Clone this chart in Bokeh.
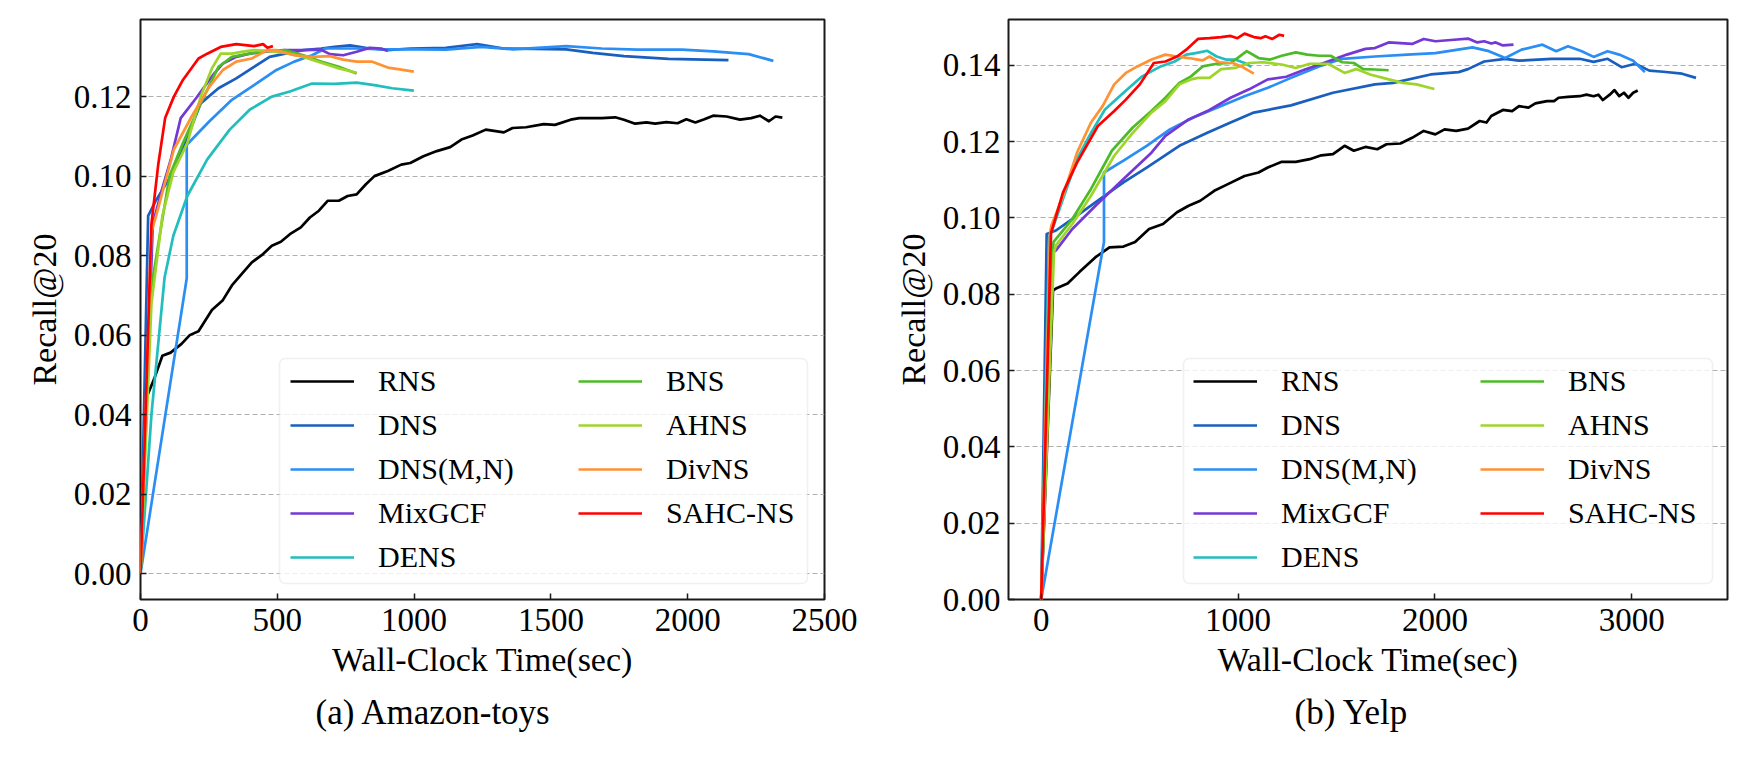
from bokeh.plotting import figure
from bokeh.layouts import row
from bokeh.models import (Range1d, FixedTicker, NumeralTickFormatter, Legend,
                          LegendItem, BoxAnnotation, Title)
from bokeh.embed import file_html
from bokeh.resources import INLINE

FONT = "Liberation Serif"

series_names = ["RNS", "DNS", "DNS(M,N)", "MixGCF", "DENS", "BNS", "AHNS", "DivNS", "SAHC-NS"]
series_colors = ["#000000", "#1a5fbf", "#2a8ef5", "#7338d6", "#22bdbd",
                 "#4cbb27", "#9fd42b", "#ff9233", "#ff0000"]

# ---------------- (a) Amazon-toys ----------------
amz_rns_x = [0, 20, 50, 80, 110, 150, 180, 212, 261, 301, 334, 375, 407, 448, 480, 513, 546, 586,
             619, 652, 684, 725, 757, 790, 823, 855, 904, 953, 986, 1034, 1083, 1132, 1173, 1214,
             1262, 1328, 1360, 1409, 1474, 1515, 1572, 1604, 1686, 1735, 1767, 1808, 1849, 1881,
             1922, 1963, 1995, 2028, 2061, 2093, 2142, 2191, 2232, 2264, 2297, 2321, 2346]
amz_rns_y = [0, 0.044, 0.049, 0.0548, 0.0556, 0.0578, 0.060, 0.061, 0.0663, 0.0688, 0.0725, 0.0758,
             0.0783, 0.0804, 0.0825, 0.0835, 0.0854, 0.0871, 0.0896, 0.0913, 0.0938, 0.0938, 0.0950,
             0.0954, 0.0979, 0.1000, 0.1013, 0.1029, 0.1033, 0.1050, 0.1063, 0.1073, 0.1092, 0.1102,
             0.1117, 0.1110, 0.1121, 0.1123, 0.1131, 0.1129, 0.1142, 0.1146, 0.1146, 0.1148, 0.1142,
             0.1132, 0.1135, 0.1132, 0.1136, 0.1133, 0.1143, 0.1135, 0.1143, 0.1152, 0.1150, 0.1142,
             0.1146, 0.1152, 0.1138, 0.1150, 0.1147]
amz_dns_x = [0, 28, 55, 106, 150, 220, 285, 350, 415, 472, 529, 595, 660, 709, 766, 823, 904, 986,
             1116, 1230, 1328, 1442, 1556, 1653, 1767, 1930, 2149]
amz_dns_y = [0, 0.090, 0.0937, 0.0995, 0.106, 0.1183, 0.1221, 0.1246, 0.1275, 0.130, 0.1308, 0.1317,
             0.1321, 0.1325, 0.1329, 0.1323, 0.1317, 0.1321, 0.1323, 0.1332, 0.1321, 0.132, 0.1319,
             0.131, 0.1302, 0.1295, 0.1292]
amz_dnsmn_x = [0, 169, 169, 252, 334, 415, 497, 562, 627, 676, 790, 888, 1018, 1116, 1246, 1360,
               1556, 1686, 1816, 1979, 2093, 2223, 2313]
amz_dnsmn_y = [0, 0.0743, 0.1079, 0.1138, 0.1192, 0.1229, 0.1267, 0.1288, 0.1304, 0.1321, 0.1321,
               0.1319, 0.1319, 0.1318, 0.1325, 0.1319, 0.1327, 0.1321, 0.1318, 0.1318, 0.1314,
               0.1307, 0.129]
amz_mixgcf_x = [0, 45, 80, 110, 147, 203, 269, 301, 350, 399, 464, 529, 595, 660, 692, 741, 790,
                839, 880, 904]
amz_mixgcf_y = [0, 0.088, 0.097, 0.104, 0.1146, 0.1196, 0.1258, 0.1283, 0.130, 0.1308, 0.1314,
                0.1317, 0.1317, 0.1318, 0.1307, 0.1304, 0.1313, 0.1323, 0.1321, 0.1315]
amz_dens_x = [0, 40, 88, 120, 171, 244, 326, 399, 480, 546, 627, 709, 790, 855, 920, 999]
amz_dens_y = [0, 0.040, 0.0745, 0.085, 0.095, 0.1042, 0.1117, 0.1167, 0.120, 0.1213, 0.1233, 0.1232,
              0.1235, 0.1229, 0.1221, 0.1215]
amz_bns_x = [0, 35, 70, 106, 155, 220, 285, 334, 399, 464, 529, 595, 660, 725, 790]
amz_bns_y = [0, 0.070, 0.085, 0.100, 0.1083, 0.1183, 0.1275, 0.130, 0.1308, 0.1315, 0.1317, 0.1304,
             0.1288, 0.1275, 0.1258]
amz_ahns_x = [0, 40, 80, 120, 171, 220, 261, 293, 334, 375, 415, 464, 529, 595, 660, 725, 790]
amz_ahns_y = [0, 0.068, 0.090, 0.101, 0.1083, 0.120, 0.1271, 0.1308, 0.1308, 0.1313, 0.1317, 0.1315,
              0.131, 0.130, 0.1285, 0.1271, 0.126]
amz_divns_x = [0, 40, 57, 122, 187, 252, 301, 350, 407, 464, 497, 562, 627, 692, 741, 790, 847,
               904, 953, 999]
amz_divns_y = [0, 0.086, 0.090, 0.1067, 0.115, 0.1225, 0.1267, 0.1288, 0.1296, 0.1317, 0.1317,
               0.1304, 0.130, 0.1302, 0.1293, 0.1288, 0.1288, 0.1273, 0.1268, 0.1263]
amz_sahc_x = [0, 40, 65, 90, 122, 155, 212, 244, 293, 350, 415, 448, 464, 484]
amz_sahc_y = [0, 0.088, 0.103, 0.1146, 0.120, 0.1242, 0.1296, 0.1308, 0.1325, 0.1332, 0.1327,
              0.1332, 0.1323, 0.1327]

# ---------------- (b) Yelp ----------------
yelp_rns_x = [0, 60, 75, 134, 194, 276, 347, 418, 477, 548, 619, 690, 749, 808, 879, 938, 1033,
              1104, 1151, 1222, 1293, 1364, 1423, 1482, 1541, 1588, 1647, 1707, 1754, 1825, 1884,
              1943, 2002, 2049, 2108, 2168, 2227, 2262, 2286, 2345, 2392, 2427, 2475, 2510, 2569,
              2605, 2628, 2676, 2735, 2770, 2806, 2830, 2853, 2888, 2912, 2936, 2960, 2983, 3007, 3030]
yelp_rns_y = [0, 0.081, 0.0815, 0.0828, 0.0858, 0.0897, 0.0923, 0.0925, 0.0937, 0.0971, 0.0984,
              0.1015, 0.1032, 0.1045, 0.1071, 0.1086, 0.111, 0.1119, 0.1132, 0.1147, 0.1147, 0.1154,
              0.1164, 0.1167, 0.1189, 0.1176, 0.1186, 0.118, 0.1193, 0.1195, 0.121, 0.1228, 0.1219,
              0.1232, 0.1228, 0.1234, 0.1254, 0.125, 0.1267, 0.1283, 0.128, 0.1293, 0.1289, 0.130,
              0.1306, 0.1306, 0.1315, 0.1317, 0.1319, 0.1323, 0.1319, 0.1323, 0.1309, 0.1323, 0.1335,
              0.1319, 0.1328, 0.1315, 0.1328, 0.1334]
yelp_dns_x = [0, 28, 75, 182, 300, 418, 536, 702, 844, 962, 1080, 1269, 1482, 1695, 1789, 1978,
              2120, 2168, 2250, 2357, 2427, 2593, 2735, 2806, 2877, 2948, 3018, 3089, 3160, 3255, 3326]
yelp_dns_y = [0, 0.0958, 0.0967, 0.1006, 0.105, 0.1093, 0.1132, 0.1189, 0.1223, 0.125, 0.1276,
              0.1295, 0.1328, 0.135, 0.1354, 0.1376, 0.1382, 0.139, 0.141, 0.1417, 0.1412, 0.1417,
              0.1417, 0.1409, 0.1417, 0.1395, 0.1404, 0.1386, 0.1383, 0.1378, 0.1367]
yelp_dnsmn_x = [0, 319, 319, 418, 536, 654, 773, 914, 1033, 1151, 1269, 1411, 1529, 1695, 1860,
                2002, 2191, 2274, 2357, 2440, 2546, 2616, 2676, 2746, 2806, 2877, 2936, 3007, 3066]
yelp_dnsmn_y = [0, 0.0937, 0.1119, 0.115, 0.1189, 0.1232, 0.1263, 0.1293, 0.1319, 0.1341, 0.1367,
                0.1397, 0.1417, 0.1423, 0.1428, 0.1432, 0.1447, 0.1437, 0.1419, 0.1441, 0.1454,
                0.1437, 0.145, 0.1437, 0.1422, 0.1437, 0.1428, 0.1412, 0.1382]
yelp_mixgcf_x = [0, 60, 75, 158, 276, 418, 560, 631, 749, 844, 962, 1056, 1151, 1245, 1340, 1435,
                 1553, 1647, 1695, 1765, 1884, 1943, 2002, 2097, 2168, 2215, 2250, 2286, 2309, 2345,
                 2399]
yelp_mixgcf_y = [0, 0.091, 0.0915, 0.0971, 0.1032, 0.1102, 0.1171, 0.1215, 0.1258, 0.128, 0.1315,
                 0.1337, 0.1363, 0.137, 0.1389, 0.1406, 0.1428, 0.1443, 0.1445, 0.146, 0.1456,
                 0.1469, 0.1463, 0.1467, 0.147, 0.146, 0.1463, 0.1457, 0.146, 0.1452, 0.1454]
yelp_dens_x = [0, 40, 52, 111, 182, 253, 324, 418, 513, 607, 678, 737, 784, 844, 891, 938, 985,
               1033, 1068]
yelp_dens_y = [0, 0.095, 0.0963, 0.105, 0.1154, 0.1223, 0.1284, 0.1328, 0.1371, 0.1397, 0.141,
               0.1428, 0.1432, 0.1438, 0.1423, 0.1415, 0.1415, 0.1406, 0.1396]
yelp_bns_x = [0, 60, 63, 158, 253, 359, 465, 560, 631, 702, 761, 820, 891, 962, 997, 1044, 1104,
              1163, 1222, 1293, 1352, 1411, 1470, 1529, 1588, 1636, 1695, 1765]
yelp_bns_y = [0, 0.092, 0.0937, 0.0997, 0.1076, 0.1176, 0.1237, 0.128, 0.1315, 0.1354, 0.1371,
              0.1397, 0.1404, 0.1406, 0.1419, 0.1437, 0.1419, 0.1415, 0.1425, 0.1434, 0.1428,
              0.1425, 0.1425, 0.1408, 0.1406, 0.139, 0.1389, 0.1387]
yelp_ahns_x = [0, 65, 75, 158, 253, 371, 465, 560, 631, 702, 761, 796, 855, 914, 985, 1056, 1127,
               1222, 1293, 1364, 1458, 1541, 1600, 1671, 1765, 1836, 1907, 1997]
yelp_ahns_y = [0, 0.091, 0.0928, 0.0984, 0.1058, 0.1163, 0.1223, 0.1276, 0.1306, 0.135, 0.1363,
               0.1367, 0.1367, 0.139, 0.1393, 0.1406, 0.1408, 0.1402, 0.1393, 0.1404, 0.1404,
               0.138, 0.139, 0.1376, 0.1363, 0.1354, 0.135, 0.1338]
yelp_divns_x = [0, 45, 52, 111, 182, 253, 312, 371, 430, 489, 560, 631, 690, 749, 820, 855, 903,
                973, 1021, 1080]
yelp_divns_y = [0, 0.096, 0.098, 0.1058, 0.1171, 0.125, 0.1293, 0.135, 0.138, 0.1397, 0.1415,
                0.1428, 0.1423, 0.1419, 0.1413, 0.1423, 0.1408, 0.1406, 0.1396, 0.1378]
yelp_sahc_x = [0, 50, 111, 182, 288, 371, 430, 501, 572, 631, 690, 737, 796, 855, 914, 962, 997,
               1033, 1080, 1115, 1139, 1174, 1210, 1234]
yelp_sahc_y = [0, 0.096, 0.1067, 0.1145, 0.1241, 0.128, 0.131, 0.135, 0.1406, 0.141, 0.1423,
               0.1441, 0.1469, 0.1471, 0.1474, 0.1477, 0.1471, 0.1483, 0.1474, 0.1471, 0.1476,
               0.1469, 0.148, 0.1477]

amz_xticks = [0, 500, 1000, 1500, 2000, 2500]
amz_yticks = [0.00, 0.02, 0.04, 0.06, 0.08, 0.10, 0.12]
yelp_xticks = [0, 1000, 2000, 3000]
yelp_yticks = [0.00, 0.02, 0.04, 0.06, 0.08, 0.10, 0.12, 0.14]

amz_series = [(amz_rns_x, amz_rns_y), (amz_dns_x, amz_dns_y), (amz_dnsmn_x, amz_dnsmn_y),
              (amz_mixgcf_x, amz_mixgcf_y), (amz_dens_x, amz_dens_y), (amz_bns_x, amz_bns_y),
              (amz_ahns_x, amz_ahns_y), (amz_divns_x, amz_divns_y), (amz_sahc_x, amz_sahc_y)]
yelp_series = [(yelp_rns_x, yelp_rns_y), (yelp_dns_x, yelp_dns_y), (yelp_dnsmn_x, yelp_dnsmn_y),
               (yelp_mixgcf_x, yelp_mixgcf_y), (yelp_dens_x, yelp_dens_y),
               (yelp_bns_x, yelp_bns_y), (yelp_ahns_x, yelp_ahns_y),
               (yelp_divns_x, yelp_divns_y), (yelp_sahc_x, yelp_sahc_y)]


def make_panel(series, xr, yr, xticks, yticks, subtitle, sub_offset, width, bl, br, bt, bb,
               leg1, leg2, box, ylab_standoff, ytick_standoff):
    p = figure(width=width, height=743, x_range=Range1d(*xr), y_range=Range1d(*yr),
               output_backend="svg", toolbar_location=None,
               min_border_left=bl, min_border_right=br, min_border_top=bt, min_border_bottom=bb,
               x_axis_label="Wall-Clock Time(sec)", y_axis_label="Recall@20")
    p.background_fill_color = "white"
    p.border_fill_color = "white"
    p.outline_line_color = "#1a1a1a"
    p.outline_line_width = 2
    p.outline_line_alpha = 1

    p.xgrid.visible = False
    p.ygrid.grid_line_color = "#b0b0b0"
    p.ygrid.grid_line_dash = "5 3"
    p.ygrid.grid_line_width = 1.2
    p.ygrid.ticker = FixedTicker(ticks=yticks)

    p.xaxis.ticker = FixedTicker(ticks=xticks)
    p.yaxis.ticker = FixedTicker(ticks=yticks)
    p.yaxis.formatter = NumeralTickFormatter(format="0.00")
    for ax in (p.xaxis[0], p.yaxis[0]):
        ax.axis_line_color = None
        ax.major_tick_in = 6
        ax.major_tick_out = 0
        ax.minor_tick_in = 0
        ax.minor_tick_out = 0
        ax.major_tick_line_color = "#1a1a1a"
        ax.major_tick_line_width = 1.5
        ax.major_label_text_font = FONT
        ax.major_label_text_font_size = "33px"
        ax.major_label_text_color = "black"
        ax.axis_label_text_font = FONT
        ax.axis_label_text_font_size = "34px"
        ax.axis_label_text_font_style = "normal"
        ax.axis_label_text_color = "black"
    p.xaxis.major_label_standoff = 9
    p.xaxis.axis_label_standoff = 7
    p.yaxis.major_label_standoff = ytick_standoff
    p.yaxis.axis_label_standoff = ylab_standoff

    renderers = []
    for (xs, ys), col in zip(series, series_colors):
        r = p.line(xs, ys, line_color=col, line_width=2.7, line_join="round")
        renderers.append(r)

    p.add_layout(BoxAnnotation(left=box[0], right=box[1], bottom=box[2], top=box[3],
                               left_units="screen", right_units="screen",
                               bottom_units="screen", top_units="screen",
                               fill_color="white", fill_alpha=0.8,
                               line_color="#cccccc", line_width=1.5, border_radius=6))

    def mk_legend(idx, loc):
        items = [LegendItem(label=series_names[i], renderers=[renderers[i]]) for i in idx]
        return Legend(items=items, location=loc, orientation="vertical",
                      border_line_color=None, background_fill_alpha=0,
                      padding=0, margin=0, spacing=0,
                      glyph_width=64, glyph_height=44, label_height=44,
                      label_standoff=24, label_text_font=FONT,
                      label_text_font_size="30px", label_text_color="black")

    p.add_layout(mk_legend([0, 1, 2, 3, 4], leg1))
    p.add_layout(mk_legend([5, 6, 7, 8], leg2))

    p.add_layout(Title(text=subtitle, align="left", offset=sub_offset, text_font=FONT,
                       text_font_size="35px", text_font_style="normal",
                       text_color="black", standoff=21), "below")
    return p


p1 = make_panel(amz_series, (0, 2500), (-0.0065, 0.1394), amz_xticks, amz_yticks,
                "(a) Amazon-toys", 175, 872, 140, 48, 14, 144,
                (150, 20), (438, 64), (139, 667, 16, 241), 8, 9)
p2 = make_panel(yelp_series, (-166, 3486), (0.0, 0.152), yelp_xticks, yelp_yticks,
                "(b) Yelp", 286, 869, 136, 14, 19, 143,
                (185, 20), (472, 64), (175, 704, 16, 241), 8, 8)

layout = row(p1, p2)
open("out.html", "w").write(file_html(layout, INLINE))
